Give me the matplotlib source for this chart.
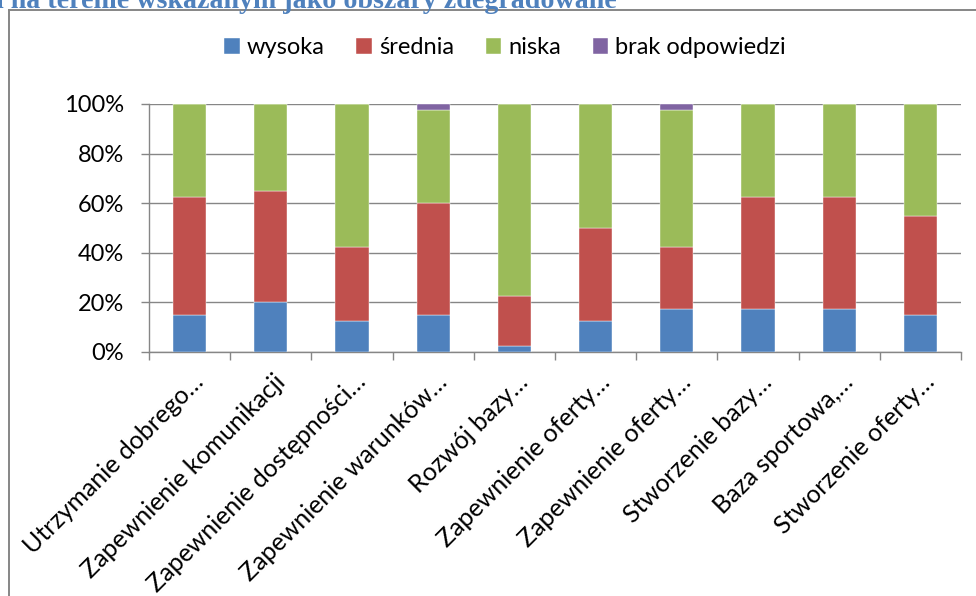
import numpy as np
import matplotlib.pyplot as plt
from matplotlib.transforms import offset_copy

categories = [
    "Utrzymanie dobrego…",
    "Zapewnienie komunikacji",
    "Zapewnienie dostępności…",
    "Zapewnienie warunków…",
    "Rozwój bazy…",
    "Zapewnienie oferty…",
    "Zapewnienie oferty…",
    "Stworzenie bazy…",
    "Baza sportowa,…",
    "Stworzenie oferty…",
]
wysoka = [15, 20, 12.5, 15, 2.5, 12.5, 17.5, 17.5, 17.5, 15]
srednia = [47.5, 45, 30, 45, 20, 37.5, 25, 45, 45, 40]
niska = [37.5, 35, 57.5, 37.5, 77.5, 50, 55, 37.5, 37.5, 45]
brak = [0, 0, 0, 2.5, 0, 0, 2.5, 0, 0, 0]

series_names = ["wysoka", "średnia", "niska", "brak odpowiedzi"]
colors = ["#4F81BD", "#C0504D", "#9BBB59", "#8064A2"]
grid_color = "#868686"

plt.rcParams["font.family"] = ["Lato", "DejaVu Sans"]

fig = plt.figure(figsize=(9.76, 5.96), dpi=100)

# chart frame (only top and left edges visible in the crop)
fig.add_artist(plt.Line2D([9 / 976, 9 / 976], [0, 1 - 10 / 596],
                          color=grid_color, lw=1.4, transform=fig.transFigure))
fig.add_artist(plt.Line2D([9 / 976, 1], [1 - 10 / 596, 1 - 10 / 596],
                          color=grid_color, lw=1.4, transform=fig.transFigure))

fig.text(-0.004, 1 - 8 / 596, "i na terenie wskazanym jako obszary zdegradowane",
         family="Liberation Serif", weight="bold", size=20.2, color="#4F81BD",
         va="baseline", ha="left")

ax = fig.add_axes([149 / 976, 1 - 352 / 596, (961 - 149) / 976, (352 - 104) / 596])

x = np.arange(len(categories))
bottom = np.zeros(len(categories))
for name, vals, col in zip(series_names, [wysoka, srednia, niska, brak], colors):
    ax.bar(x, vals, width=0.41, bottom=bottom, color=col, label=name,
           edgecolor="white", linewidth=0.3, zorder=3)
    bottom += np.array(vals)

ax.set_xlim(-0.5, len(categories) - 0.5)
ax.set_ylim(0, 100)
ax.set_yticks(np.arange(0, 101, 20))
ax.set_yticklabels([f"{v}%" for v in range(0, 101, 20)], fontsize=17)
ax.yaxis.grid(True, color=grid_color, lw=1.0, zorder=0)
ax.set_axisbelow(True)

ax.set_xticks(x)
ax.set_xticks(np.arange(-0.5, len(categories), 1), minor=True)
ax.tick_params(axis="x", which="major", length=0, pad=0)
ax.tick_params(axis="x", which="minor", length=6, width=1.0, color=grid_color)
ax.tick_params(axis="y", length=6, width=1.0, color=grid_color, pad=12)
ax.set_xticklabels([])

label_tf = offset_copy(ax.get_xaxis_transform(), fig=fig, x=2, y=-18, units="dots")
for xi, lab in zip(x, categories):
    ax.text(xi, 0, lab, transform=label_tf, rotation=45, rotation_mode="anchor",
            ha="right", va="top", fontsize=18)

for s in ["top", "right"]:
    ax.spines[s].set_visible(False)
for s in ["left", "bottom"]:
    ax.spines[s].set_color(grid_color)
    ax.spines[s].set_linewidth(1.0)

fig.legend(loc="center", bbox_to_anchor=(505 / 976, 1 - 48 / 596), ncol=4,
           frameon=False, fontsize=17, handlelength=0.65, handleheight=0.65,
           handletextpad=0.3, columnspacing=1.35)

fig.savefig("out.png", dpi=100)
